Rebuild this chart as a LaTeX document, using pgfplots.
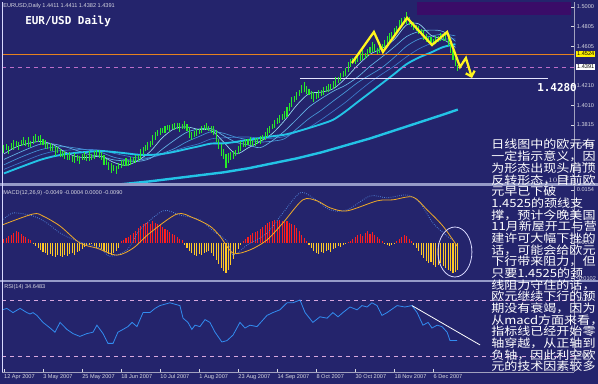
\documentclass[border=0pt]{standalone}
\usepackage{pgfplots}
\pgfplotsset{compat=1.18}
\usepackage{pgfplotstable}
\usepackage{fontspec}
\setmainfont{Liberation Sans}
\newfontfamily\cjk[FakeStretch=1.15]{Noto Sans CJK SC}
\newfontfamily\monob{DejaVu Sans Mono}
\usetikzlibrary{arrows.meta}

\definecolor{bgnavy}{RGB}{36,36,108}
\definecolor{hdrpurple}{RGB}{58,12,104}
\definecolor{band}{RGB}{150,155,200}
\definecolor{candle}{RGB}{40,235,40}
\definecolor{neck}{RGB}{230,130,30}
\definecolor{askpink}{RGB}{190,110,200}
\definecolor{hsyellow}{RGB}{255,245,30}
\definecolor{macdred}{RGB}{255,30,30}
\definecolor{macdyel}{RGB}{255,200,40}
\definecolor{macdor}{RGB}{240,170,40}
\definecolor{macdblue}{RGB}{80,130,215}
\definecolor{rsiblue}{RGB}{50,140,240}
\definecolor{rA}{RGB}{150,215,240}
\definecolor{rB}{RGB}{100,180,230}
\definecolor{rC}{RGB}{70,150,215}
\definecolor{rD}{RGB}{60,120,200}
\definecolor{maC}{RGB}{35,195,230}
\definecolor{lbl}{RGB}{215,215,225}

% price bars: index, mid, half range
\pgfplotstableread{
i p e
0 1.357 .004
1 1.359 .003
2 1.356 .004
3 1.360 .003
4 1.361 .005
5 1.362 .003
6 1.360 .004
7 1.363 .003
8 1.365 .004
9 1.363 .003
10 1.364 .005
11 1.362 .003
12 1.366 .004
13 1.368 .004
14 1.367 .003
15 1.366 .005
16 1.364 .003
17 1.362 .004
18 1.360 .003
19 1.359 .004
20 1.358 .003
21 1.355 .005
22 1.356 .003
23 1.353 .004
24 1.352 .003
25 1.351 .004
26 1.349 .003
27 1.350 .004
28 1.347 .003
29 1.348 .005
30 1.348 .003
31 1.346 .004
32 1.349 .003
33 1.350 .004
34 1.348 .003
35 1.350 .005
36 1.349 .003
37 1.351 .004
38 1.353 .003
39 1.352 .004
40 1.350 .004
41 1.346 .005
42 1.344 .003
43 1.340 .004
44 1.338 .005
45 1.338 .003
46 1.336 .004
47 1.340 .003
48 1.342 .004
49 1.343 .003
50 1.344 .004
51 1.343 .003
52 1.345 .004
53 1.346 .003
54 1.347 .004
55 1.348 .003
56 1.352 .005
57 1.355 .004
58 1.358 .003
59 1.360 .004
60 1.362 .003
61 1.366 .005
62 1.370 .004
63 1.373 .003
64 1.375 .004
65 1.376 .003
66 1.377 .004
67 1.379 .003
68 1.378 .004
69 1.380 .003
70 1.380 .004
71 1.381 .003
72 1.379 .005
73 1.380 .003
74 1.382 .004
75 1.379 .004
76 1.374 .006
77 1.370 .004
78 1.372 .003
79 1.374 .004
80 1.375 .003
81 1.377 .004
82 1.379 .003
83 1.380 .004
84 1.378 .003
85 1.377 .004
86 1.376 .005
87 1.370 .006
88 1.362 .005
89 1.356 .006
90 1.352 .005
91 1.345 .007
92 1.348 .005
93 1.350 .004
94 1.351 .004
95 1.353 .003
96 1.356 .004
97 1.360 .005
98 1.362 .003
99 1.363 .004
100 1.364 .003
101 1.365 .004
102 1.363 .003
103 1.364 .004
104 1.365 .003
105 1.366 .004
106 1.368 .003
107 1.370 .004
108 1.374 .005
109 1.377 .004
110 1.380 .003
111 1.383 .004
112 1.386 .003
113 1.388 .004
114 1.390 .003
115 1.392 .004
116 1.395 .005
117 1.400 .004
118 1.405 .005
119 1.408 .003
120 1.411 .004
121 1.414 .003
122 1.418 .004
123 1.420 .005
124 1.417 .004
125 1.415 .003
126 1.412 .004
127 1.410 .005
128 1.411 .003
129 1.413 .004
130 1.414 .003
131 1.416 .004
132 1.418 .003
133 1.419 .004
134 1.420 .003
135 1.422 .004
136 1.425 .005
137 1.427 .003
138 1.430 .004
139 1.433 .003
140 1.435 .004
141 1.440 .005
142 1.444 .004
143 1.446 .003
144 1.447 .004
145 1.448 .003
146 1.450 .004
147 1.452 .005
148 1.451 .003
149 1.454 .004
150 1.457 .003
151 1.460 .005
152 1.459 .004
153 1.456 .003
154 1.458 .004
155 1.460 .003
156 1.463 .004
157 1.466 .005
158 1.470 .004
159 1.472 .003
160 1.475 .004
161 1.478 .003
162 1.482 .005
163 1.485 .004
164 1.487 .003
165 1.489 .006
166 1.486 .004
167 1.483 .003
168 1.481 .004
169 1.479 .003
170 1.477 .004
171 1.475 .003
172 1.472 .005
173 1.469 .004
174 1.467 .003
175 1.466 .004
176 1.465 .003
177 1.467 .004
178 1.468 .003
179 1.470 .004
180 1.469 .003
181 1.470 .004
182 1.466 .005
183 1.460 .006
184 1.452 .005
185 1.445 .004
186 1.439 .003
}\price

% moving average ribbon
\pgfplotstableread{
i a2 a4 a6 a8 a10
0 1.3525 1.3470 1.3415 1.3370 1.3329
5 1.3595 1.3525 1.3472 1.3420 1.3376
10 1.3630 1.3578 1.3523 1.3469 1.3422
15 1.3650 1.3623 1.3567 1.3516 1.3466
20 1.3620 1.3625 1.3592 1.3548 1.3499
25 1.3545 1.3598 1.3597 1.3561 1.3522
30 1.3495 1.3558 1.3582 1.3568 1.3537
35 1.3490 1.3518 1.3562 1.3570 1.3547
40 1.3500 1.3498 1.3538 1.3561 1.3554
45 1.3440 1.3465 1.3492 1.3531 1.3544
50 1.3410 1.3455 1.3468 1.3506 1.3531
55 1.3460 1.3450 1.3463 1.3484 1.3517
60 1.3550 1.3480 1.3487 1.3489 1.3515
65 1.3690 1.3575 1.3530 1.3520 1.3525
70 1.3780 1.3665 1.3580 1.3560 1.3547
75 1.3795 1.3743 1.3648 1.3596 1.3575
80 1.3770 1.3775 1.3700 1.3628 1.3602
85 1.3760 1.3778 1.3748 1.3676 1.3629
90 1.3645 1.3708 1.3732 1.3686 1.3631
95 1.3525 1.3643 1.3693 1.3693 1.3646
100 1.3585 1.3615 1.3667 1.3695 1.3666
105 1.3650 1.3588 1.3645 1.3683 1.3684
110 1.3730 1.3658 1.3653 1.3683 1.3702
115 1.3860 1.3755 1.3678 1.3699 1.3718
120 1.4015 1.3873 1.3777 1.3744 1.3749
125 1.4130 1.3995 1.3880 1.3791 1.3785
130 1.4145 1.4080 1.3963 1.3869 1.3824
135 1.4180 1.4155 1.4057 1.3955 1.3869
140 1.4285 1.4215 1.4148 1.4044 1.3952
145 1.4415 1.4298 1.4242 1.4146 1.4047
150 1.4525 1.4405 1.4318 1.4243 1.4140
155 1.4585 1.4500 1.4393 1.4328 1.4234
160 1.4675 1.4600 1.4495 1.4408 1.4329
165 1.4820 1.4703 1.4607 1.4500 1.4426
170 1.4830 1.4753 1.4677 1.4579 1.4492
175 1.4715 1.4768 1.4707 1.4634 1.4543
180 1.4675 1.4753 1.4727 1.4676 1.4598
185 1.4595 1.4655 1.4710 1.4679 1.4626
}\ribbon

% MACD histogram
\pgfplotstableread{
i v
0 0.0012
1 0.0015
2 0.0020
3 0.0023
4 0.0029
5 0.0035
6 0.0032
7 0.0026
8 0.0020
9 0.0017
10 0.0012
11 0.0009
12 -0.0003
13 -0.0009
14 -0.0015
15 -0.0020
16 -0.0026
17 -0.0029
18 -0.0035
19 -0.0032
20 -0.0038
21 -0.0041
22 -0.0035
23 -0.0038
24 -0.0041
25 -0.0035
26 -0.0038
27 -0.0032
28 -0.0029
29 -0.0035
30 -0.0026
31 -0.0023
32 -0.0017
33 -0.0012
34 -0.0009
35 -0.0006
36 -0.0003
37 -0.0009
38 -0.0015
39 -0.0012
40 -0.0017
41 -0.0023
42 -0.0026
43 -0.0032
44 -0.0035
45 -0.0029
46 -0.0023
47 -0.0015
48 0.0006
49 0.0009
50 0.0015
51 0.0017
52 0.0023
53 0.0029
54 0.0035
55 0.0044
56 0.0049
57 0.0055
58 0.0058
59 0.0061
60 0.0055
61 0.0064
62 0.0058
63 0.0055
64 0.0052
65 0.0046
66 0.0041
67 0.0038
68 0.0032
69 0.0026
70 0.0023
71 0.0017
72 0.0012
73 0.0009
74 -0.0006
75 -0.0015
76 -0.0023
77 -0.0029
78 -0.0035
79 -0.0038
80 -0.0032
81 -0.0035
82 -0.0029
83 -0.0026
84 -0.0023
85 -0.0029
86 -0.0038
87 -0.0049
88 -0.0061
89 -0.0073
90 -0.0081
91 -0.0087
92 -0.0078
93 -0.0064
94 -0.0046
95 -0.0029
96 -0.0017
97 -0.0006
98 0.0006
99 0.0012
100 0.0017
101 0.0023
102 0.0029
103 0.0032
104 0.0035
105 0.0041
106 0.0046
107 0.0052
108 0.0058
109 0.0061
110 0.0064
111 0.0067
112 0.0064
113 0.0067
114 0.0064
115 0.0061
116 0.0064
117 0.0058
118 0.0055
119 0.0052
120 0.0044
121 0.0035
122 0.0023
123 0.0015
124 0.0006
125 -0.0006
126 -0.0015
127 -0.0023
128 -0.0029
129 -0.0032
130 -0.0026
131 -0.0029
132 -0.0023
133 -0.0020
134 -0.0026
135 -0.0017
136 -0.0015
137 -0.0009
138 -0.0012
139 -0.0006
140 -0.0003
141 0.0003
142 0.0006
143 0.0012
144 0.0017
145 0.0023
146 0.0026
147 0.0020
148 0.0029
149 0.0035
150 0.0026
151 0.0032
152 0.0023
153 0.0017
154 0.0012
155 0.0006
156 -0.0003
157 -0.0006
158 -0.0009
159 -0.0006
160 -0.0003
161 0.0006
162 0.0012
163 0.0017
164 0.0023
165 0.0020
166 0.0012
167 0.0006
168 -0.0006
169 -0.0015
170 -0.0023
171 -0.0035
172 -0.0044
173 -0.0052
174 -0.0058
175 -0.0055
176 -0.0064
177 -0.0070
178 -0.0064
179 -0.0058
180 -0.0067
181 -0.0073
182 -0.0078
183 -0.0081
184 -0.0087
185 -0.0084
186 -0.0078
}\hist

% RSI
\pgfplotstableread{
i r
-0.8 62.9
1.2 64
3.7 61
6.6 64
9.4 61
10.7 60
11.9 61
13.5 59
16 54
18.9 50
20.9 47
23 54
25.8 49
28.3 46
31.1 44
34 46
36.5 47
38.1 52
40.6 46
42.6 39
44.7 39
46.7 47
48.8 49
50.8 51
52.5 54
54.5 51
57 61
59.8 61
61.9 64
63.9 66
68 68
72.1 66
73.4 57
75.4 54
77 49
78.3 52
80.3 51
82.4 56
84.4 54
86.5 47
89.3 40
91.4 41
93.9 45
96.7 54
98.8 50
100.8 52
103.7 51
107.8 59
110.2 61
113.1 63
116 68
118.4 68
121.3 70
123.4 61
126.6 54
129.5 58
132.4 57
134.8 61
136.9 58
138.9 61
141.8 65
144.7 63
146.7 66
148.8 65
150.8 68
152.9 66
154.9 59
157 61
161.1 66
164.3 65
167.2 66
169.3 61
171.7 52
173.8 54
175.4 50
177.5 52
179.5 51
181.6 47
182.8 41
185.7 41
}\rsi

\pgfplotsset{
  panel/.style={
    scale only axis, width=429pt, xmin=-0.8, xmax=233.6,
    axis line style={draw=none},
    tick style={draw=lbl, line width=0.4pt},
    major tick length=2pt,
    ticklabel style={font=\fontsize{4.2}{5}\selectfont, text=lbl, inner sep=0pt},
    yticklabel pos=right, ytick pos=right, yticklabel shift=2pt,
    clip mode=individual,
  },
}
\newcommand\cl[2]{\node[anchor=base west, inner sep=0pt, text=white, font=\cjk\fontsize{8.5}{8.5}\selectfont] at (368.25pt,#1) {#2};}

\begin{document}
\begin{tikzpicture}
\fill[bgnavy] (0,0) rectangle (448.5pt,288pt);
\fill[hdrpurple] (312.75pt,276.75pt) rectangle (428.25pt,286.5pt);

% ---------------- price panel
\begin{axis}[panel, at={(1.5pt,150.75pt)}, anchor=south west, height=135.75pt,
  ymin=1.3233, ymax=1.5050, xtick=\empty,
  ytick={1.3415,1.3615,1.3815,1.4010,1.4210,1.4605,1.4805,1.5000},
  yticklabels={1.3415,1.3615,1.3815,1.4010,1.4210,1.4605,1.4805,1.5000}]
\addplot[maC, line width=1.8pt] coordinates {(30,1.3180)(40,1.3200)(52,1.3230)(60,1.3250)(70,1.3280)(80,1.3310)(90,1.3340)(100,1.3380)(110,1.3430)(120,1.3480)(130,1.3540)(140,1.3610)(150,1.3680)(160,1.3760)(170,1.3840)(180,1.3920)(186,1.3970)};
\addplot[rD, line width=0.5pt, smooth] table[x=i,y=a8]{\ribbon};
\addplot[rC, line width=0.5pt, smooth] table[x=i,y=a6]{\ribbon};
\addplot[rB, line width=0.5pt, smooth] table[x=i,y=a4]{\ribbon};
\addplot[rA, line width=0.5pt, smooth] table[x=i,y=a2]{\ribbon};
\addplot[maC, line width=1.4pt, smooth] table[x=i,y=a10]{\ribbon};
\addplot[neck, line width=0.8pt] coordinates {(-0.8,1.4524)(233.6,1.4524)};
\addplot[askpink, line width=0.6pt, dashed] coordinates {(-0.8,1.4391)(233.6,1.4391)};
\addplot[white!90!blue, line width=0.8pt] coordinates {(121.3,1.4280)(223,1.4280)};
\addplot[draw=none, mark=none, error bars/.cd, y dir=both, y explicit,
  error mark=none, error bar style={candle, line width=0.8pt}]
  table[x=i, y=p, y error=e]{\price};
\addplot[hsyellow, line width=1.7pt, -{Straight Barb[length=3.5pt,width=7pt]}] coordinates {(142.6,1.4438)(151.6,1.4749)(155.3,1.4548)(165.2,1.4890)(175.4,1.4618)(181.6,1.4749)(186.9,1.4398)(189.3,1.4488)(191.8,1.4287)};
\end{axis}

% ---------------- MACD panel
\begin{axis}[panel, at={(1.5pt,78pt)}, anchor=south west, height=70.5pt,
  ymin=-0.0107, ymax=0.0165, xtick=\empty,
  ytick={-0.0102,0,0.0154}, yticklabels={-0.0102,0.0000,0.0154}]
\addplot[ycomb, macdred, line width=0.8pt, mark=none, restrict y to domain=0:1] table[x=i,y=v]{\hist};
\addplot[ycomb, macdyel, line width=0.8pt, mark=none, restrict y to domain=-1:0] table[x=i,y=v]{\hist};
\addplot[macdblue, line width=0.6pt, densely dotted, smooth] coordinates {(-0.8,0.0064)(3.7,0.0087)(11.9,0.0078)(17.6,0.0058)(23,0.0029)(29.9,0.0006)(39.3,-0.0015)(43.4,-0.0038)(50.4,-0.0020)(55.7,0.0038)(65.2,0.0093)(72.1,0.0081)(80.3,0.0067)(85.7,0.0035)(91.4,0.0006)(93.9,-0.0035)(99.6,-0.0006)(107.8,0.0029)(114.3,0.0087)(121.3,0.0145)(126.6,0.0131)(133.6,0.0096)(140.6,0.0096)(150,0.0136)(157,0.0131)(165.2,0.0139)(170.5,0.0116)(175.8,0.0058)(181.6,0.0020)(184,0.0009)};
\addplot[macdor, line width=0.6pt, smooth] coordinates {(-0.8,0.0052)(11.9,0.0084)(16,0.0078)(23,0.0049)(31.1,0.0000)(38.1,-0.0015)(46.3,-0.0035)(52.9,-0.0015)(59.8,0.0029)(70.9,0.0084)(77.5,0.0073)(84.4,0.0049)(88.5,0.0020)(93.9,-0.0029)(100.8,-0.0020)(107.8,0.0009)(114.3,0.0058)(122.5,0.0125)(128.3,0.0122)(133.6,0.0102)(140.6,0.0093)(152.9,0.0122)(159.4,0.0125)(167.6,0.0133)(173.4,0.0096)(179.9,0.0049)(185.7,-0.0009)};
\draw[white!85!blue, line width=0.6pt] (axis cs:184.8,-0.0026) ellipse [x radius=12.75pt, y radius=18.75pt];
\end{axis}

% ---------------- RSI panel
\begin{axis}[panel, at={(1.5pt,9pt)}, anchor=south west, height=67.5pt,
  ymin=18.57, ymax=82.86,
  ytick={30,70}, yticklabels={30.00,70.00},
  xtick={0,16,32,48,64,80,96,112,128,144,160,176},
  xticklabels={12 Apr 2007,3 May 2007,25 May 2007,18 Jun 2007,10 Jul 2007,1 Aug 2007,23 Aug 2007,14 Sep 2007,8 Oct 2007,30 Oct 2007,18 Nov 2007,6 Dec 2007},
  xtick pos=bottom, xticklabel style={anchor=north west}, xticklabel shift=2pt]
\addplot[askpink!60!white, line width=0.5pt, dashed] coordinates {(-0.8,70)(233.6,70)};
\addplot[askpink!60!white, line width=0.5pt, dashed] coordinates {(-0.8,30)(233.6,30)};
\addplot[rsiblue, line width=0.6pt] table[x=i,y=r]{\rsi};
\addplot[white, line width=0.6pt] coordinates {(167.2,66)(195.1,37.9)};
\end{axis}

% frame and separators
\fill[band] (0,148.5pt) rectangle (448.5pt,150.75pt);
\fill[band] (0,76.5pt) rectangle (448.5pt,78pt);
\draw[white!85!blue, line width=0.7pt] (1.5pt,9pt) -- (1.5pt,286.5pt);
\draw[lbl!70!bgnavy, line width=0.5pt] (430.5pt,9pt) -- (430.5pt,286.5pt);
\draw[lbl!70!bgnavy, line width=0.5pt] (1.5pt,9pt) -- (430.5pt,9pt);

% labels
\node[anchor=west, inner sep=0pt, text=lbl, font=\fontsize{4.2}{5}\selectfont] at (2.25pt,283.5pt) {EURUSD,Daily 1.4411 1.4411 1.4382 1.4391};
\node[anchor=west, inner sep=0pt, text=white, font=\monob\bfseries\fontsize{8.2}{9}\selectfont] at (18.75pt,272.25pt) {EUR/USD Daily};
\node[anchor=west, inner sep=0pt, text=lbl, font=\fontsize{4.2}{5}\selectfont] at (2.25pt,143.25pt) {MACD(12,26,9) -0.0049 -0.0004 0.0000 -0.0090};
\node[anchor=west, inner sep=0pt, text=lbl, font=\fontsize{4.2}{5}\selectfont] at (3pt,72.75pt) {RSI(14) 34.6483};
\node[anchor=west, fill=yellow, text=black, inner sep=0.7pt, font=\fontsize{4.2}{5}\selectfont] at (432pt,247.5pt) {1.4524};
\node[anchor=west, fill=white, text=black, inner sep=0.7pt, font=\fontsize{4.2}{5}\selectfont] at (432pt,237.75pt) {1.4391};
\node[inner sep=0pt, text=white, font=\monob\bfseries\fontsize{8.2}{9}\selectfont] at (417.75pt,222pt) {1.4280};

% Chinese commentary
\cl{176.25pt}{日线图中的欧元有}
\cl{167.49pt}{一定指示意义，因}
\cl{158.73pt}{为形态出现头肩顶}
\cl{149.97pt}{反转形态，目前欧}
\cl{141.21pt}{元早已下破}
\cl{132.45pt}{1.4525的颈线支}
\cl{123.69pt}{撑，预计今晚美国}
\cl{114.93pt}{11月新屋开工与营}
\cl{106.17pt}{建许可大幅下挫的}
\cl{97.41pt}{话，可能会给欧元}
\cl{88.65pt}{下行带来阻力，但}
\cl{79.89pt}{只要1.4525的颈}
\cl{71.13pt}{线阻力守住的话，}
\cl{62.37pt}{欧元继续下行的预}
\cl{53.61pt}{期没有衰竭，因为}
\cl{44.85pt}{从macd方面来看，}
\cl{36.09pt}{指标线已经开始零}
\cl{27.33pt}{轴穿越，从正轴到}
\cl{18.57pt}{负轴，因此利空欧}
\cl{9.81pt}{元的技术因素较多}

\pgfresetboundingbox
\useasboundingbox (0,0) rectangle (448.5pt,288pt);
\end{tikzpicture}
\end{document}
